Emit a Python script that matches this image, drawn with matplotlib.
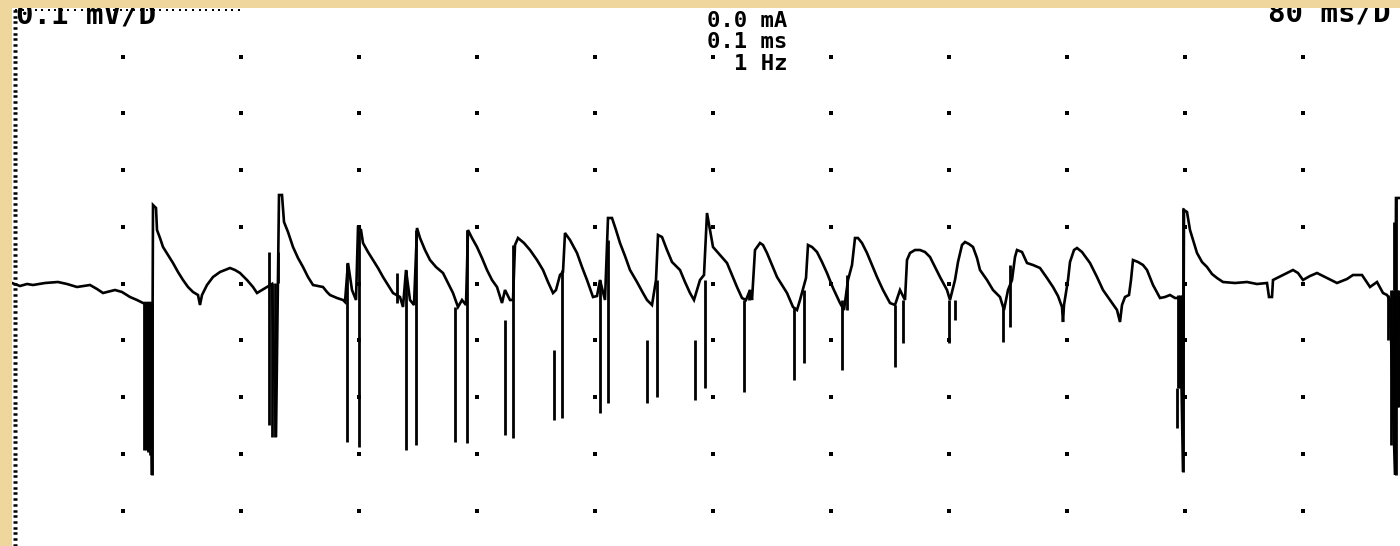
import matplotlib
matplotlib.use("Agg")
import matplotlib.pyplot as plt
import numpy as np

# trace, screen pixels (x right, y down)
trace_x = [12, 20, 27, 33, 45, 58, 67, 77, 90, 97, 103, 115, 122, 130, 137, 143, 150,
           152, 153, 156, 157, 160, 163, 168, 173, 178, 183, 188, 193, 198, 200, 202, 207, 213,
           220, 230, 235, 240, 247, 253, 257, 262, 267,
           272, 276, 279, 282, 284, 288, 293, 298, 303, 308, 313, 318, 323, 327, 330, 337, 343, 345,
           348, 352, 356, 358, 361, 363, 368, 373, 378, 383, 388, 393, 400, 403,
           406, 410, 414, 417, 420, 425, 430, 436, 443, 448, 453, 458,
           462, 466, 468, 472, 477, 482, 487, 492, 497, 502,
           505, 510, 513, 515, 518, 524, 530, 537, 543, 548, 553,
           556, 560, 563, 565, 570, 577, 582, 587, 593,
           597, 600, 605, 608, 612, 616, 620, 625, 630, 637, 643,
           647, 652, 656, 658, 662, 667, 672, 680, 685, 690,
           694, 700, 704, 707, 710, 713, 720, 727, 732, 737, 742,
           746, 750, 752, 755, 760, 763, 767, 772, 777, 782, 787, 793,
           797, 800, 806, 808, 812, 817, 822, 827, 833, 840,
           844, 848, 852, 855, 858, 862, 867, 872, 877, 883, 890,
           895, 900, 905, 907, 910, 915, 920, 925, 930, 935, 940, 947,
           950, 955, 958, 962, 965, 969, 973, 977, 980, 987, 993, 1000,
           1004, 1008, 1012, 1015, 1017, 1022, 1027, 1033, 1040, 1047, 1053, 1058, 1062, 1063, 1064,
           1068, 1070, 1074, 1077, 1082, 1090, 1097, 1103, 1110, 1117, 1120, 1122, 1125,
           1129, 1131, 1133, 1138, 1143, 1147, 1153, 1160, 1165, 1170, 1175, 1180,
           1183, 1184, 1187, 1190, 1194, 1197, 1202, 1207, 1212, 1217, 1223, 1235, 1247, 1257,
           1267, 1269, 1272, 1273, 1283, 1293, 1298, 1303, 1310, 1317, 1327, 1337, 1347, 1353,
           1362, 1370, 1377, 1383, 1387, 1390,
           1395, 1396, 1400]
trace_y = [283, 286, 284, 285, 283, 282, 284, 287, 285, 289, 293, 290, 292, 297, 300, 303, 303,
           475, 205, 208, 230, 238, 247, 255, 263, 272, 280, 287, 292, 295, 305, 295, 285, 277,
           272, 268, 270, 273, 280, 287, 293, 290, 287,
           284, 437, 195, 195, 222, 232, 247, 258, 267, 277, 285, 286, 287, 292, 295, 298, 300, 302,
           263, 290, 300, 228, 230, 243, 252, 260, 268, 277, 285, 293, 297, 307,
           270, 300, 305, 228, 238, 250, 260, 267, 273, 283, 293, 307,
           300, 305, 230, 238, 247, 258, 270, 280, 287, 303,
           290, 300, 300, 245, 238, 243, 250, 260, 270, 282, 293,
           290, 275, 272, 233, 240, 253, 267, 280, 297,
           296, 280, 300, 218, 218, 230, 243, 256, 270, 282, 293,
           300, 305, 280, 235, 237, 250, 262, 270, 282, 293,
           300, 280, 275, 213, 230, 247, 255, 263, 275, 287, 298,
           300, 290, 300, 250, 243, 245, 253, 265, 277, 285, 293, 307,
           310, 300, 278, 245, 247, 252, 262, 273, 288, 303,
           310, 280, 265, 238, 238, 243, 253, 265, 277, 290, 303,
           305, 290, 300, 260, 253, 250, 250, 252, 257, 267, 277, 290,
           300, 280, 262, 245, 242, 244, 247, 258, 270, 280, 290, 297,
           310, 290, 280, 257, 250, 252, 263, 265, 268, 278, 287, 296, 307, 322, 305,
           280, 262, 250, 248, 252, 263, 277, 290, 300, 310, 322, 305, 297,
           295, 280, 260, 262, 265, 270, 285, 298, 297, 295, 298, 298,
           472, 210, 212, 230, 243, 253, 262, 267, 274, 278, 282, 283, 282, 284,
           283, 297, 297, 280, 275, 270, 273, 280, 276, 273, 278, 283, 279, 275,
           275, 287, 282, 293, 295, 300,
           475, 198, 198]

# stimulus artefact bars (overlapping sweeps): x, top, bottom in screen pixels
bar_x = [144, 146, 148, 150, 152, 269, 272, 275, 278, 347, 359, 397, 406, 416, 455, 467,
         505, 513, 554, 562, 600, 608, 647, 657, 695, 705, 744, 749, 794, 804, 842, 847,
         895, 903, 949, 955, 1003, 1010, 1178, 1180, 1182, 1177, 1183,
         1388, 1391, 1393, 1395, 1397, 1399, 1396, 1394]
bar_top = [303, 303, 303, 303, 303, 252, 283, 283, 252, 263, 230, 273, 270, 230, 307, 230,
           320, 245, 350, 270, 280, 240, 340, 280, 340, 280, 300, 290, 307, 290, 300, 275,
           305, 300, 300, 300, 305, 265, 295, 295, 295, 388, 208,
           295, 290, 290, 290, 290, 290, 198, 222]
bar_bot = [450, 450, 452, 455, 475, 425, 437, 437, 283, 442, 447, 303, 450, 445, 442, 443,
           435, 438, 420, 418, 413, 403, 403, 397, 400, 388, 392, 300, 380, 363, 370, 310,
           367, 343, 343, 320, 342, 327, 388, 388, 388, 428, 472,
           340, 445, 407, 407, 407, 407, 475, 290]

# stimulus settings shown on screen
stim_lines = ['0.0 mA', '0.1 ms', '1 Hz']

MS_PER_DIV = 80
MV_PER_DIV = 0.1
PX_PER_XDIV = 118
PX_PER_YDIV = 56.75
X0 = 5        # screen x of t = 0
Y0 = 283.5    # screen y of the baseline


def to_ms(px):
    return (np.asarray(px, dtype=float) - X0) / PX_PER_XDIV * MS_PER_DIV


def to_mv(py):
    return (Y0 - np.asarray(py, dtype=float)) / PX_PER_YDIV * MV_PER_DIV


W, H = 1400, 546
fig = plt.figure(figsize=(W / 100, H / 100), dpi=100)
fig.patch.set_facecolor('#efd69c')
ax = fig.add_axes([12 / W, 0, (W - 12) / W, (H - 8) / H])
ax.set_xlim(to_ms(12), to_ms(W))
ax.set_ylim(to_mv(H), to_mv(8))
ax.axis('off')
ax.add_patch(plt.Rectangle((0, 0), 1, 1, transform=ax.transAxes, color='white', zorder=0))

# dotted screen graticule
gx, gy = np.meshgrid(np.arange(1, 12) * MS_PER_DIV, np.arange(-4, 5) * MV_PER_DIV)
ax.plot(gx.ravel(), gy.ravel(), 's', color='black', ms=2.4, mew=0, ls='none')

# fine tick marks along the left screen edge and dots along the top
ty = np.arange(-4.6, 4.9, 0.1) * MV_PER_DIV
ax.plot(np.full(len(ty), to_ms(15)), ty, '_', color='black', ms=3.5, mew=1.8, ls='none')
tx = np.arange(to_ms(16), to_ms(245), MS_PER_DIV / 18)
ax.plot(tx, np.full(len(tx), to_mv(9.5)), 's', color='black', ms=1.6, mew=0, ls='none')

ax.vlines(to_ms(bar_x), to_mv(bar_bot), to_mv(bar_top), color='black', lw=2.0)
ax.plot(to_ms(trace_x), to_mv(trace_y), color='black', lw=1.9, solid_joinstyle='miter')

font = dict(family='DejaVu Sans Mono', weight='bold', color='black', clip_on=True)
ax.text(to_ms(16), to_mv(24), '0.1 mV/D', fontsize=21, ha='left', va='baseline', **font)
ax.text(to_ms(1268), to_mv(22), '80 ms/D', fontsize=21, ha='left', va='baseline', **font)
ax.text(to_ms(787), to_mv(11), '\n'.join(stim_lines), fontsize=16, ha='right', va='top',
        multialignment='right', linespacing=1.08, **font)

fig.savefig('out.png', dpi=100, facecolor=fig.get_facecolor())
